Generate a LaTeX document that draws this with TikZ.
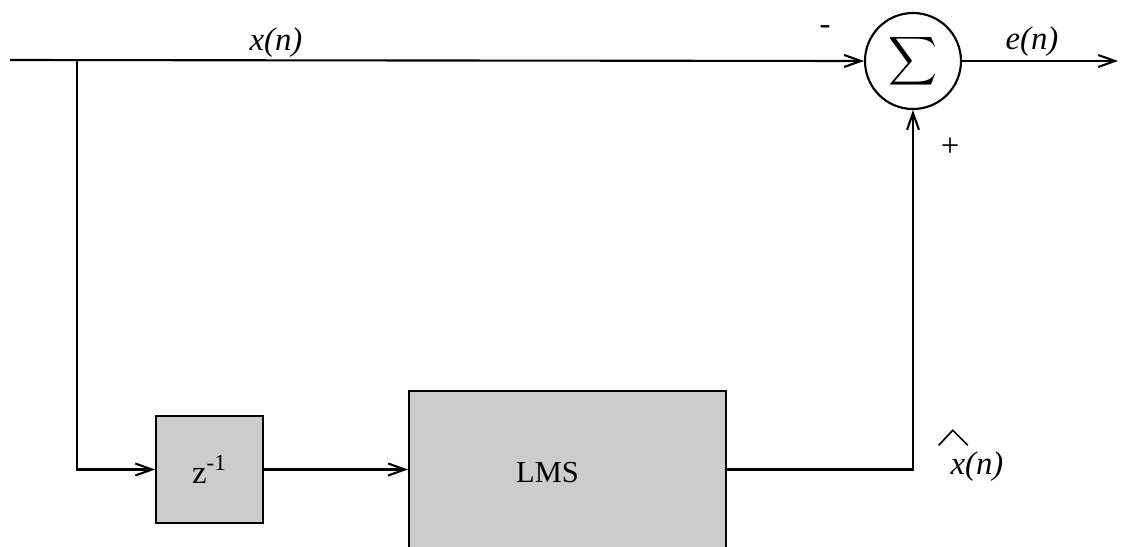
\documentclass[tikz,border=0pt]{standalone}
\usepackage{fontspec}
\setmainfont{Liberation Serif}
\usetikzlibrary{positioning, arrows.meta, calc}

\begin{document}
\begin{tikzpicture}[
    x=0.015cm, y=-0.015cm,
    >={Straight Barb[length=2.5mm,width=1.8mm]},
    line width=0.9pt,
    arr/.style={->, line width=0.9pt},
    blk/.style={draw, fill=gray!40, inner sep=0pt},
    sumnode/.style={draw, circle, minimum size=1.44cm, inner sep=0pt},
    lbl/.style={font=\fontsize{14}{16}\selectfont}
  ]
\useasboundingbox (0,0) rectangle (1121,546);
\clip (0,0) rectangle (1121,546);

% =================== summing junction ===================
\node[sumnode] (sum) at (913,61) {\scalebox{1.45}{$\displaystyle\sum$}};
\coordinate (in) at (10,60);
\coordinate (tap) at (77,60);
\coordinate (out) at (1118,61);

% =================== delay + LMS filter ===================
\node[blk, lbl, minimum width=1.6cm, minimum height=1.6cm] (z) at (209.5,469.5)
  {z\textsuperscript{-1}};
\node[blk, minimum width=4.755cm, minimum height=2.46cm,
      label={[lbl, font=\fontsize{13}{15}\selectfont, xshift=-0.3cm]center:LMS}]
  (lms) at (567.5,473) {};

% =================== connectors ===================
\draw[arr] (in) -- (sum.west);
\draw[arr] (sum.east) -- (out);
\draw[arr] (tap) |- (z.west);
\draw[arr] (z.east) -- (lms.west |- z.east);
\draw[arr] (lms.east |- z.east) -| (sum.south);

% labels
\node[lbl] (xn) at (276,43) {\textit{x(n)}};
\node[lbl] (en) at (1032,42) {\textit{e(n)}};
\node[lbl] (minus) at (825,30) {-};
\node[lbl] (plus) at (950,147) {+};
\node[lbl] (xhat) at (977,467) {\textit{x(n)}};
% caret over the estimate
\draw[line width=0.7pt] ($(xhat.north west)+(-3,2)$) -- ++(14,-15) -- ++(15,15);

\end{tikzpicture}
\end{document}
